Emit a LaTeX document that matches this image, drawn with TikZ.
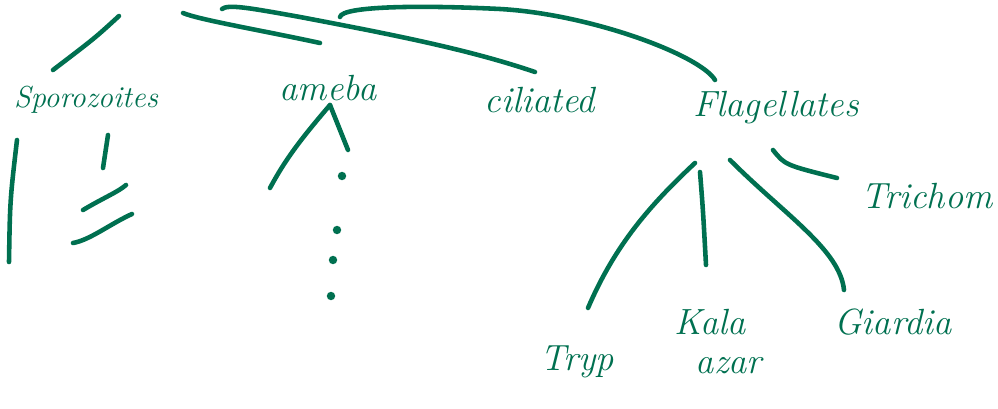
\documentclass[tikz,border=0pt]{standalone}
\usetikzlibrary{positioning}
\definecolor{inkgreen}{RGB}{0,112,80}
\tikzset{
  taxon/.style   ={text=inkgreen, font=\huge\itshape, inner sep=0pt},
  subtaxon/.style={text=inkgreen, font=\huge\itshape, inner sep=0pt, align=center},
  stroke/.style  ={draw=inkgreen, line width=2.6pt, line cap=round},
  dotmark/.style ={fill=inkgreen}}

\begin{document}
\begin{tikzpicture}[x=0.02cm, y=-0.02cm]
\useasboundingbox (0,0) rectangle (998,409);

% groups
\node[taxon, font=\LARGE\itshape] (sporo) at (86,100) {Sporozoites};
\node[taxon] (ameba) at (328,88)  {ameba};
\node[taxon] (cili)  at (540,100) {ciliated};
\node[taxon] (flag)  at (776,108) {Flagellates};

% flagellates
\node[subtaxon] (trich) at (927,196) {Trichom};
\node[subtaxon] (tryp)  at (577,362) {Tryp};
\node[subtaxon] (kala)  at (710,322) {Kala};
\node[subtaxon] (azar)  at (729,366) {azar};
\node[subtaxon] (giar)  at (893,322) {Giardia};

% stroke ends
\coordinate (top-1) at (119,16);
\coordinate (top-2) at (183,13);
\coordinate (top-3) at (222,9);
\coordinate (top-4) at (340,17);
\coordinate (sp-in)  at (53,70);
\coordinate (am-in)  at (320,43);
\coordinate (ci-in)  at (535,72);
\coordinate (fl-in)  at (715,80);

% top strokes
\draw[stroke] (top-1) .. controls (95,38) .. (sp-in);
\draw[stroke] (top-2) .. controls (200,20) and (260,30) .. (am-in);
\draw[stroke] (top-3) .. controls (228,4) and (250,8) .. (300,17)
  .. controls (400,36) and (470,50) .. (ci-in);
\draw[stroke] (top-4) .. controls (342,6) and (420,5) .. (500,9)
  .. controls (590,14) and (700,55) .. (fl-in);

% sporozoites strokes
\draw[stroke] (17,140) .. controls (10,200) .. (9,262);
\draw[stroke] (108,135) -- (103,168);
\draw[stroke] (83,210) .. controls (105,197) and (118,192) .. (126,185);
\draw[stroke] (73,243) .. controls (90,240) and (110,224) .. (132,214);

% ameba strokes
\coordinate (am-top) at (330,105);
\draw[stroke] (am-top) .. controls (300,140) and (285,160) .. (270,188);
\draw[stroke] (am-top) -- (348,150);
\foreach \p in {(342,176),(337,230),(333,260),(331,296)}
  \fill[dotmark] \p circle (2.4pt);

% flagellates strokes
\coordinate (fl-1) at (695,163);
\coordinate (fl-2) at (700,172);
\coordinate (fl-3) at (730,160);
\coordinate (fl-4) at (773,150);
\coordinate (tr-in) at (837,178);
\coordinate (ty-in) at (588,308);
\coordinate (ka-in) at (706,265);
\coordinate (gi-in) at (844,290);
\draw[stroke] (fl-1) .. controls (650,205) and (615,245) .. (ty-in);
\draw[stroke] (fl-2) .. controls (703,210) .. (ka-in);
\draw[stroke] (fl-3) .. controls (785,215) and (840,250) .. (gi-in);
\draw[stroke] (fl-4) .. controls (785,165) .. (tr-in);
\end{tikzpicture}
\end{document}
